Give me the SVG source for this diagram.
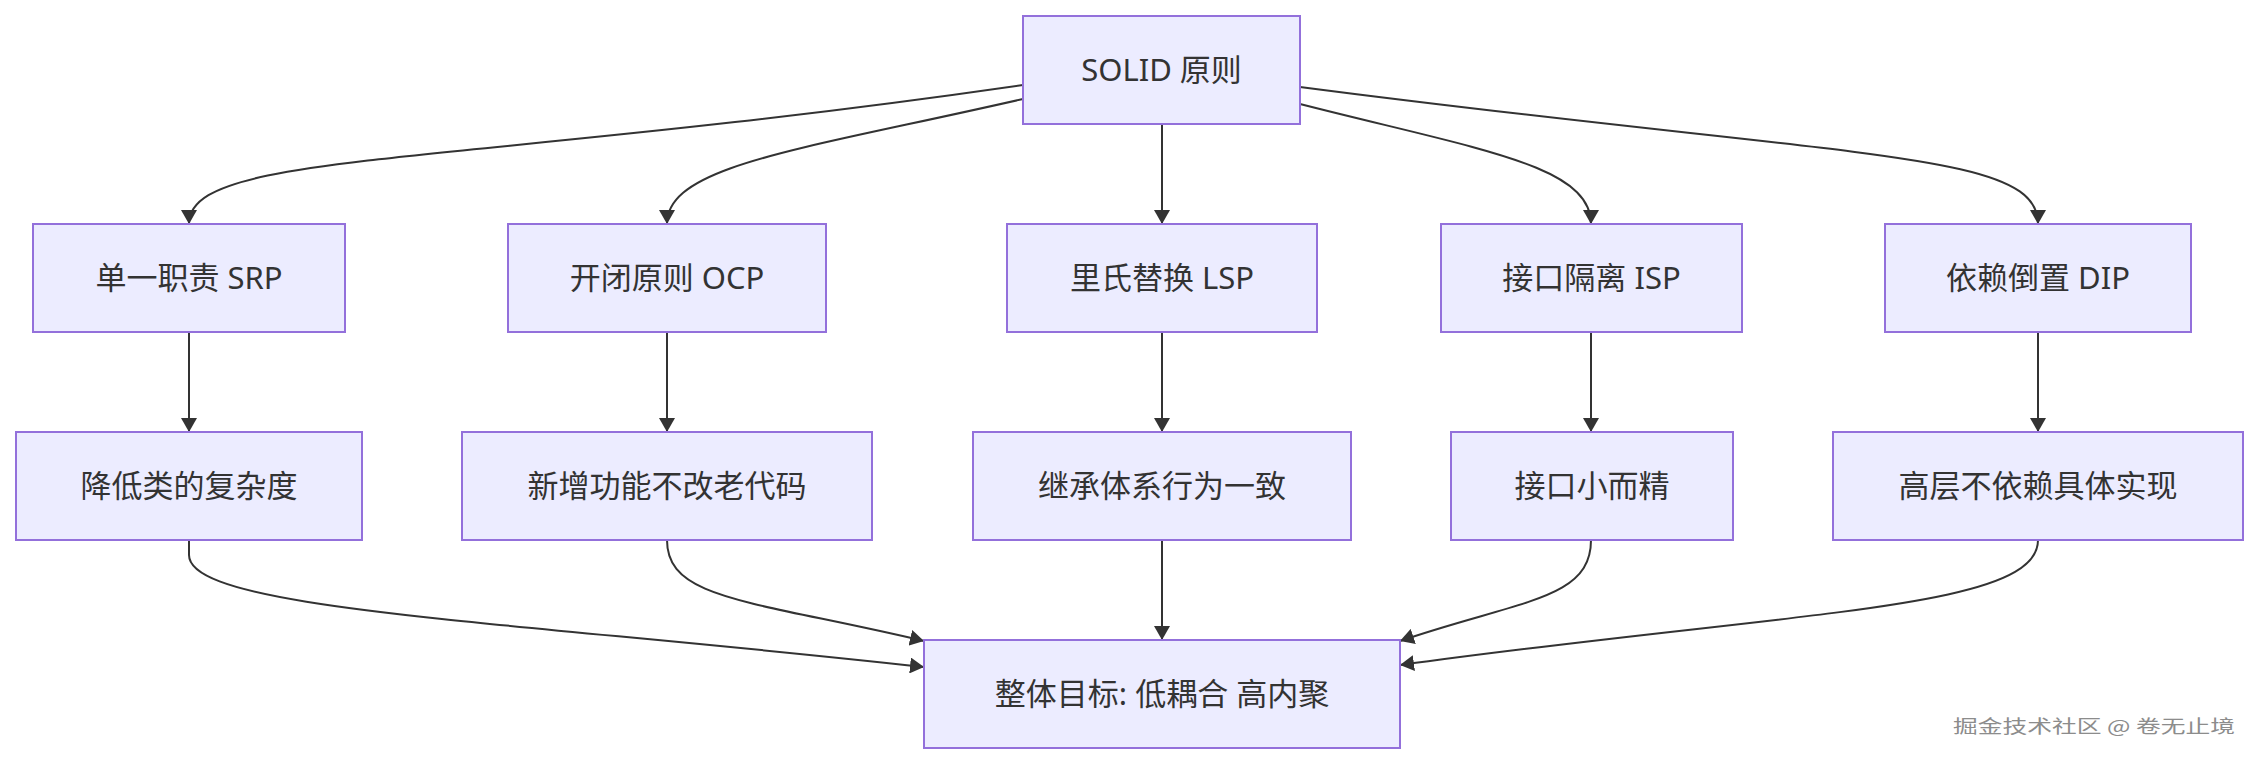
<svg xmlns="http://www.w3.org/2000/svg" width="2259" height="764" viewBox="0 0 2259 764">
<defs>
<style>
.node rect{fill:#ECECFF;stroke:#9370DB;stroke-width:2}
.node text{font-family:"Noto Sans","Noto Sans CJK SC",sans-serif;font-size:31px;fill:#333;text-anchor:middle}
.edge{fill:none;stroke:#333;stroke-width:2}
.wm{font-family:"Noto Sans CJK SC",sans-serif;font-size:18px;fill:#8c8c8c}
</style>
<marker id="arr" viewBox="0 0 14 16" refX="14" refY="8" markerWidth="14" markerHeight="16" markerUnits="userSpaceOnUse" orient="auto">
<path d="M0,0 L14,8 L0,16 z" fill="#333"/>
</marker>
</defs>
<rect x="0" y="0" width="2259" height="764" fill="#fff"/>
<g id="connectors">
<path class="edge" marker-end="url(#arr)" d="M1023,85 C450,168 189,150 189,224"/>
<path class="edge" marker-end="url(#arr)" d="M1023,99 C800,150 667,165 667,224"/>
<path class="edge" marker-end="url(#arr)" d="M1162,124 L1162,224"/>
<path class="edge" marker-end="url(#arr)" d="M1300,104 C1480,150 1591,165 1591,224"/>
<path class="edge" marker-end="url(#arr)" d="M1300,87 C1860,160 2038,150 2038,224"/>
<path class="edge" marker-end="url(#arr)" d="M189,332 L189,432"/>
<path class="edge" marker-end="url(#arr)" d="M667,332 L667,432"/>
<path class="edge" marker-end="url(#arr)" d="M1162,332 L1162,432"/>
<path class="edge" marker-end="url(#arr)" d="M1591,332 L1591,432"/>
<path class="edge" marker-end="url(#arr)" d="M2038,332 L2038,432"/>
<path class="edge" marker-end="url(#arr)" d="M189,540 L189,555 C189,610 500,620 924,667"/>
<path class="edge" marker-end="url(#arr)" d="M667,540 C667,600 750,600 924,641"/>
<path class="edge" marker-end="url(#arr)" d="M1162,540 L1162,640"/>
<path class="edge" marker-end="url(#arr)" d="M1591,540 C1591,600 1520,600 1400,641"/>
<path class="edge" marker-end="url(#arr)" d="M2038,540 C2038,610 1800,610 1400,665"/>
</g>
<g id="solid" class="node"><rect x="1023" y="16" width="277" height="108"/><text x="1161.5" y="80.5">SOLID 原则</text></g>
<g id="srp" class="node"><rect x="33" y="224" width="312" height="108"/><text x="189" y="288.5">单一职责 SRP</text></g>
<g id="ocp" class="node"><rect x="508" y="224" width="318" height="108"/><text x="667" y="288.5">开闭原则 OCP</text></g>
<g id="lsp" class="node"><rect x="1007" y="224" width="310" height="108"/><text x="1162" y="288.5">里氏替换 LSP</text></g>
<g id="isp" class="node"><rect x="1441" y="224" width="301" height="108"/><text x="1591.5" y="288.5">接口隔离 ISP</text></g>
<g id="dip" class="node"><rect x="1885" y="224" width="306" height="108"/><text x="2038" y="288.5">依赖倒置 DIP</text></g>
<g id="srp2" class="node"><rect x="16" y="432" width="346" height="108"/><text x="189" y="496.5">降低类的复杂度</text></g>
<g id="ocp2" class="node"><rect x="462" y="432" width="410" height="108"/><text x="667" y="496.5">新增功能不改老代码</text></g>
<g id="lsp2" class="node"><rect x="973" y="432" width="378" height="108"/><text x="1162" y="496.5">继承体系行为一致</text></g>
<g id="isp2" class="node"><rect x="1451" y="432" width="282" height="108"/><text x="1592" y="496.5">接口小而精</text></g>
<g id="dip2" class="node"><rect x="1833" y="432" width="410" height="108"/><text x="2038" y="496.5">高层不依赖具体实现</text></g>
<g id="goal" class="node"><rect x="924" y="640" width="476" height="108"/><text x="1162" y="704.5">整体目标: 低耦合 高内聚</text></g>
<text class="wm" x="1953" y="733" textLength="282" lengthAdjust="spacingAndGlyphs">掘金技术社区 @ 卷无止境</text>
</svg>
